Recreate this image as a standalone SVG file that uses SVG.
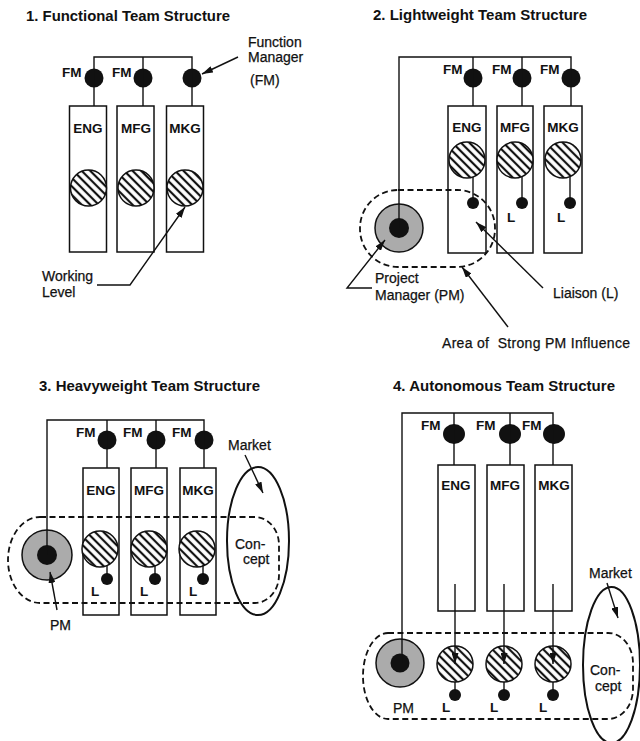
<svg xmlns="http://www.w3.org/2000/svg" width="640" height="741" viewBox="0 0 640 741">
<style>
.ttl{font-family:"Liberation Sans",Arial,sans-serif;font-weight:bold;font-size:14px;fill:#111}
.lb{font-family:"Liberation Sans",Arial,sans-serif;font-weight:bold;font-size:13.5px;fill:#111}
.lbm{font-family:"Liberation Sans",Arial,sans-serif;font-weight:bold;font-size:13.5px;fill:#111;text-anchor:middle}
.an{font-family:"Liberation Sans",Arial,sans-serif;font-size:14px;fill:#111;stroke:#111;stroke-width:0.25}
.ln{fill:none;stroke:#111;stroke-width:1.4}
.box{fill:#fff;stroke:#111;stroke-width:1.5}
.fm{fill:#111}
.hat{fill:url(#hatch);stroke:#111;stroke-width:1.5}
.pm{fill:#ababab;stroke:#111;stroke-width:1.5}
.dash{fill:none;stroke:#111;stroke-width:1.8;stroke-dasharray:6 3.5}
.mkt{fill:none;stroke:#111;stroke-width:2}
.arr{fill:none;stroke:#111;stroke-width:1.4;marker-end:url(#ah)}
</style>
<defs>
<pattern id="hatch" patternUnits="userSpaceOnUse" width="6" height="6" patternTransform="rotate(45)">
<rect width="6" height="6" fill="#fff"/>
<line x1="0" y1="3" x2="6" y2="3" stroke="#111" stroke-width="2.2"/>
</pattern>
<marker id="ah" markerWidth="11" markerHeight="7" refX="11" refY="3.5" orient="auto" markerUnits="userSpaceOnUse">
<path d="M0,0 L11,3.5 L0,7 z" fill="#111"/>
</marker>
</defs>
<rect width="640" height="741" fill="#fff"/>

<!-- Titles -->
<g id="titles">
<text class="ttl" x="26" y="21" textLength="204" lengthAdjust="spacingAndGlyphs">1.  Functional Team Structure</text>
<text class="ttl" x="373" y="20" textLength="214" lengthAdjust="spacingAndGlyphs">2.  Lightweight Team Structure</text>
<text class="ttl" x="39" y="391" textLength="221" lengthAdjust="spacingAndGlyphs">3.  Heavyweight Team Structure</text>
<text class="ttl" x="393" y="391" textLength="222" lengthAdjust="spacingAndGlyphs">4.  Autonomous Team Structure</text>
</g>

<!-- Panel 1 -->
<g id="p1-eng"><rect class="box" x="69.5" y="106" width="37" height="146"/><text class="lbm" x="88" y="133">ENG</text><circle class="hat" cx="88.5" cy="188" r="18"/></g>
<g id="p1-mfg"><rect class="box" x="117" y="106" width="37" height="146"/><text class="lbm" x="136" y="133">MFG</text><circle class="hat" cx="136" cy="188" r="18"/></g>
<g id="p1-mkg"><rect class="box" x="166.5" y="106" width="37" height="146"/><text class="lbm" x="185" y="133">MKG</text><circle class="hat" cx="185" cy="188" r="18"/></g>
<g id="p1-fm">
<circle class="fm" cx="94" cy="78" r="9.5"/><circle class="fm" cx="143" cy="78" r="9.5"/><circle class="fm" cx="192" cy="78" r="9.5"/>
<text class="lb" x="62" y="77">FM</text><text class="lb" x="112" y="77">FM</text>
</g>
<g id="p1-notes">
<text class="an" x="248" y="47">Function</text>
<text class="an" x="248" y="62">Manager</text>
<text class="an" x="250" y="85">(FM)</text>
<text class="an" x="42" y="281">Working</text>
<text class="an" x="42" y="297">Level</text>
</g>

<!-- Panel 2 -->
<g id="p2-eng"><rect class="box" x="448" y="106" width="38" height="147"/><text class="lbm" x="467" y="132">ENG</text><circle class="hat" cx="467" cy="160" r="18"/><circle class="fm" cx="473" cy="203" r="6"/></g>
<g id="p2-mfg"><rect class="box" x="497" y="106" width="36" height="147"/><text class="lbm" x="515" y="132">MFG</text><circle class="hat" cx="515" cy="160" r="18"/><circle class="fm" cx="522" cy="203" r="6"/><text class="lbm" x="511" y="222">L</text></g>
<g id="p2-mkg"><rect class="box" x="544" y="106" width="38" height="147"/><text class="lbm" x="563" y="132">MKG</text><circle class="hat" cx="563" cy="160" r="18"/><circle class="fm" cx="570" cy="203" r="6"/><text class="lbm" x="561" y="222">L</text></g>
<g id="p2-area"><rect class="dash" x="360" y="190" width="135" height="77" rx="38" ry="38"/></g>
<g id="p2-fm">
<circle class="fm" cx="473" cy="78" r="9.5"/><circle class="fm" cx="522" cy="78" r="9.5"/><circle class="fm" cx="571" cy="78" r="9.5"/>
<text class="lb" x="443" y="74">FM</text><text class="lb" x="492" y="74">FM</text><text class="lb" x="540" y="74">FM</text>
</g>
<g id="p2-pm"><circle class="pm" cx="399" cy="228" r="24"/><circle class="fm" cx="399" cy="228" r="10"/></g>
<g id="p2-notes">
<text class="an" x="375" y="283">Project</text>
<text class="an" x="375" y="300">Manager (PM)</text>
<text class="an" x="553" y="298">Liaison (L)</text>
<text class="an" x="442" y="348" xml:space="preserve" textLength="188">Area of  Strong PM Influence</text>
</g>

<!-- Panel 3 -->
<g id="p3-eng"><rect class="box" x="83" y="468" width="36" height="147"/><text class="lbm" x="101" y="495">ENG</text><circle class="hat" cx="100" cy="549" r="18"/><circle class="fm" cx="107" cy="579" r="6"/><text class="lbm" x="95" y="596">L</text></g>
<g id="p3-mfg"><rect class="box" x="131" y="468" width="36" height="147"/><text class="lbm" x="149" y="495">MFG</text><circle class="hat" cx="149" cy="549" r="18"/><circle class="fm" cx="155" cy="579" r="6"/><text class="lbm" x="144" y="596">L</text></g>
<g id="p3-mkg"><rect class="box" x="180" y="468" width="36" height="147"/><text class="lbm" x="198" y="495">MKG</text><circle class="hat" cx="197" cy="549" r="18"/><circle class="fm" cx="203" cy="579" r="6"/><text class="lbm" x="193" y="596">L</text></g>
<g id="p3-fm">
<circle class="fm" cx="107" cy="440" r="9.5"/><circle class="fm" cx="156" cy="440" r="9.5"/><circle class="fm" cx="204" cy="440" r="9.5"/>
<text class="lb" x="76" y="437">FM</text><text class="lb" x="123" y="437">FM</text><text class="lb" x="172" y="437">FM</text>
</g>
<g id="p3-pm"><circle class="pm" cx="47" cy="555" r="25"/><circle class="fm" cx="47" cy="555" r="10"/></g>
<g id="p3-area"><path class="dash" d="M40,517 H255 A24,28 0 0 1 279,545 V575 A24,28 0 0 1 255,603 H40 A32,43 0 0 1 8,560 A32,43 0 0 1 40,517 Z"/></g>
<g id="p3-market"><ellipse class="mkt" cx="258" cy="541" rx="31" ry="74"/></g>
<g id="p3-notes">
<text class="an" x="50" y="630">PM</text>
<text class="an" x="228" y="450">Market</text>
<text class="an" x="235" y="549">Con-</text>
<text class="an" x="243" y="564">cept</text>
</g>

<!-- Panel 4 -->
<g id="p4-eng"><rect class="box" x="438" y="465" width="37" height="146"/><text class="lbm" x="456" y="490">ENG</text></g>
<g id="p4-mfg"><rect class="box" x="487" y="465" width="37" height="146"/><text class="lbm" x="505" y="490">MFG</text></g>
<g id="p4-mkg"><rect class="box" x="535" y="465" width="37" height="146"/><text class="lbm" x="554" y="490">MKG</text></g>
<g id="p4-fm">
<ellipse class="fm" cx="454" cy="434" rx="11" ry="10"/><ellipse class="fm" cx="510" cy="434" rx="11" ry="10"/><ellipse class="fm" cx="554" cy="434" rx="11" ry="10"/>
<text class="lb" x="421" y="430">FM</text><text class="lb" x="476" y="430">FM</text><text class="lb" x="522" y="430">FM</text>
</g>
<g id="p4-l1"><circle class="hat" cx="455" cy="664" r="18"/><circle class="fm" cx="455" cy="695" r="6"/><text class="lbm" x="446" y="712">L</text></g>
<g id="p4-l2"><circle class="hat" cx="504" cy="664" r="18"/><circle class="fm" cx="504" cy="695" r="6"/><text class="lbm" x="494" y="712">L</text></g>
<g id="p4-l3"><circle class="hat" cx="553" cy="664" r="18"/><circle class="fm" cx="553" cy="695" r="6"/><text class="lbm" x="543" y="712">L</text></g>
<g id="p4-pm"><circle class="pm" cx="400" cy="663" r="24"/><circle class="fm" cx="400" cy="663" r="9.5"/></g>
<g id="p4-area"><path class="dash" d="M388,633 H608 A25,30 0 0 1 633,663 V689 A25,30 0 0 1 608,719 H388 A25,43 0 0 1 363,676 A25,43 0 0 1 388,633 Z"/></g>
<g id="p4-market"><ellipse class="mkt" cx="611.5" cy="665" rx="28.5" ry="78"/></g>
<g id="p4-notes">
<text class="an" x="393" y="713">PM</text>
<text class="an" x="589" y="578">Market</text>
<text class="an" x="590" y="675">Con-</text>
<text class="an" x="595" y="691">cept</text>
</g>

<!-- Connectors -->
<g id="connectors">
<path class="ln" d="M94,106 V57 H192 V106 M143,57 V106"/>
<path class="ln" d="M399,228 V57 H571 V106 M473,57 V106 M522,57 V106"/>
<path class="ln" d="M473,177 V203 M522,177 V203 M570,177 V203"/>
<path class="ln" d="M47,555 V420 H204 V468 M107,420 V468 M156,420 V468"/>
<path class="ln" d="M107,565 V579 M155,565 V579 M203,565 V579"/>
<path class="ln" d="M402,663 V413 H553 V465 M454,413 V465 M510,413 V465"/>
<path class="ln" d="M455,682 V695 M504,682 V695 M553,682 V695"/>
<line class="arr" x1="455" y1="584" x2="455" y2="664"/>
<line class="arr" x1="504" y1="584" x2="504" y2="664"/>
<line class="arr" x1="553" y1="584" x2="553" y2="664"/>
<line class="arr" x1="238" y1="57" x2="202" y2="74"/>
<polyline class="arr" points="97,285 130,285 185,207"/>
<polyline class="arr" points="372,288 347,288 385,240"/>
<line class="arr" x1="543" y1="288" x2="476" y2="222"/>
<line class="arr" x1="508" y1="327" x2="462" y2="267"/>
<line class="arr" x1="57" y1="610" x2="50" y2="572"/>
<line class="arr" x1="245" y1="455" x2="263" y2="493"/>
<line class="arr" x1="607" y1="583" x2="618" y2="618"/>
</g>
</svg>
